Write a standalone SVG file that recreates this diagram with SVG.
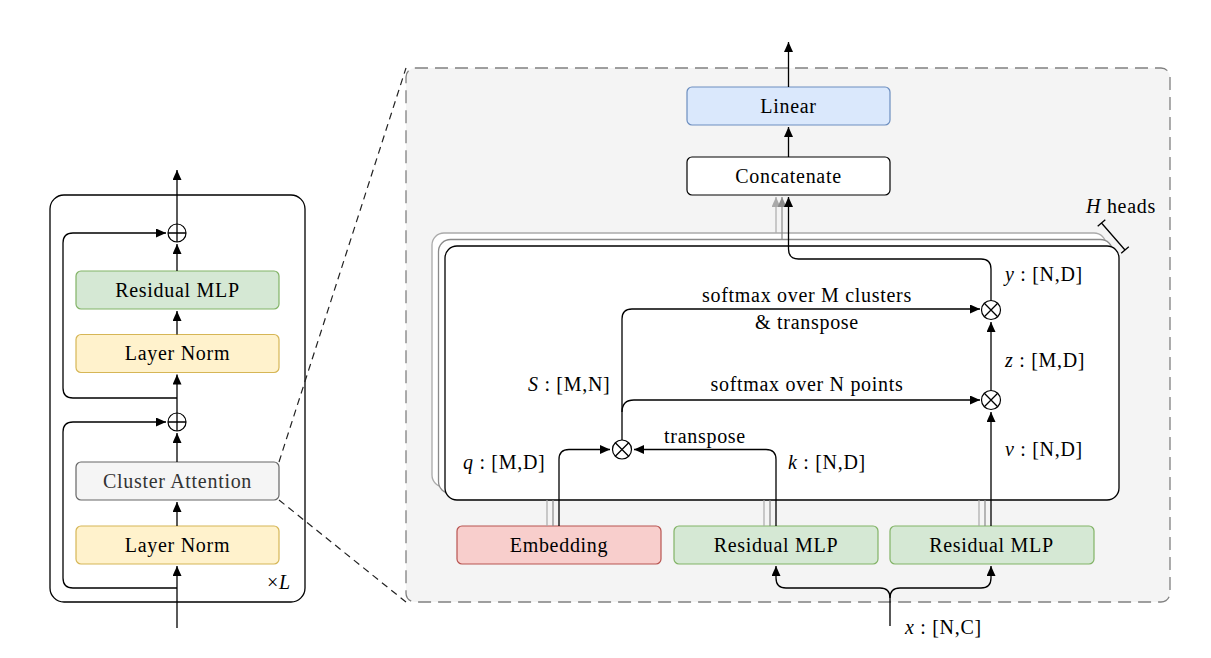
<svg xmlns="http://www.w3.org/2000/svg" width="1211" height="658" viewBox="0 0 1211 658">
<defs>
<marker id="ah" markerUnits="userSpaceOnUse" markerWidth="11" markerHeight="9" refX="10" refY="4.5" orient="auto" viewBox="0 0 11 9"><path d="M0,0 L10,4.5 L0,9 z" fill="#000"/></marker>
<marker id="ahg1" markerUnits="userSpaceOnUse" markerWidth="11" markerHeight="9" refX="10" refY="4.5" orient="auto" viewBox="0 0 11 9"><path d="M0,0 L10,4.5 L0,9 z" fill="#8a8a8a"/></marker>
<marker id="ahg2" markerUnits="userSpaceOnUse" markerWidth="11" markerHeight="9" refX="10" refY="4.5" orient="auto" viewBox="0 0 11 9"><path d="M0,0 L10,4.5 L0,9 z" fill="#aaaaaa"/></marker>
</defs>
<style>
text { font-family: 'Liberation Serif', 'Times New Roman', Tinos, 'Noto Serif', 'DejaVu Serif', serif; font-size: 20px; fill: #000; letter-spacing: 0.7px; }
.c { text-anchor: middle; }
.m { font-style: italic; }
.ln { fill: none; stroke: #000; stroke-width: 1.3; }
.arr { marker-end: url(#ah); }
.nd { stroke-width: 1.2; }
.green { fill: #d5e8d4; stroke: #82b366; }
.yellow { fill: #fff2cc; stroke: #d6b656; }
.grey { fill: #f5f5f5; stroke: #666666; }
.red { fill: #f8cecc; stroke: #b85450; }
.blue { fill: #dae8fc; stroke: #6c8ebf; }
.white { fill: #ffffff; stroke: #000000; }
.op { fill: #fff; stroke: #000; stroke-width: 1.2; }
.g1 { fill: none; stroke: #8a8a8a; stroke-width: 1.2; }
.g2 { fill: none; stroke: #aaaaaa; stroke-width: 1.2; }
</style>
<rect x="0" y="0" width="1211" height="658" fill="#fff"/>

<!-- right panel background -->
<g id="attention-panel">
<rect x="406" y="68" width="764" height="534" rx="9" fill="#f4f4f4" stroke="#808080" stroke-width="1.3" stroke-dasharray="13 7"/>
</g>

<!-- left block -->
<g id="block-frame">
<rect x="50" y="195" width="255" height="407" rx="14" fill="none" stroke="#000" stroke-width="1.3"/>
<text x="267" y="589" font-family="Liberation Serif, serif">×<tspan class="m">L</tspan></text>
</g>

<g id="layernorm-2">
<rect class="nd yellow" x="76" y="526" width="203" height="38" rx="5"/>
<text class="c" x="177.5" y="552" font-family="Liberation Serif, serif">Layer Norm</text>
</g>
<g id="cluster-attention">
<rect class="nd grey" x="76" y="462" width="203" height="38" rx="5"/>
<text class="c" x="177.5" y="488" font-family="Liberation Serif, serif" style="fill:#333">Cluster Attention</text>
</g>
<g id="plus-2">
<circle class="op" cx="177" cy="422" r="9"/>
<path class="ln" d="M168,422 H186 M177,413 V431" stroke-width="1.2"/>
</g>
<g id="layernorm-1">
<rect class="nd yellow" x="76" y="334.5" width="203" height="38" rx="5"/>
<text class="c" x="177.5" y="360" font-family="Liberation Serif, serif">Layer Norm</text>
</g>
<g id="residual-mlp-left">
<rect class="nd green" x="76" y="271" width="203" height="38" rx="5"/>
<text class="c" x="177.5" y="297" font-family="Liberation Serif, serif">Residual MLP</text>
</g>
<g id="plus-1">
<circle class="op" cx="177" cy="233" r="9"/>
<path class="ln" d="M168,233 H186 M177,224 V242" stroke-width="1.2"/>
</g>

<!-- right panel nodes -->
<g id="heads">
<rect x="432" y="233" width="674" height="254" rx="12" fill="#fff" stroke="#aaaaaa" stroke-width="1.3"/>
<rect x="438.5" y="239.5" width="674" height="254" rx="12" fill="#fff" stroke="#8a8a8a" stroke-width="1.3"/>
<rect x="445" y="246" width="674" height="254" rx="12" fill="#fff" stroke="#000" stroke-width="1.3"/>
</g>
<g id="h-heads">
<path class="ln" d="M1101.5,223 L1125,250 M1097.7,226.3 L1105.3,219.7 M1121.2,253.3 L1128.8,246.7" stroke="#333"/>
<text class="c" x="1121" y="213" font-family="Liberation Serif, serif"><tspan class="m">H</tspan> heads</text>
</g>
<g id="linear">
<rect class="nd blue" x="687" y="87" width="203" height="38" rx="5"/>
<text class="c" x="788.5" y="113" font-family="Liberation Serif, serif">Linear</text>
</g>
<g id="concatenate">
<rect class="nd white" x="687" y="157" width="203" height="38" rx="5"/>
<text class="c" x="788.5" y="183" font-family="Liberation Serif, serif">Concatenate</text>
</g>
<g id="embedding">
<rect class="nd red" x="457" y="526" width="204" height="38" rx="5"/>
<text class="c" x="559" y="552" font-family="Liberation Serif, serif">Embedding</text>
</g>
<g id="residual-mlp-k">
<rect class="nd green" x="674" y="526" width="204" height="38" rx="5"/>
<text class="c" x="776" y="552" font-family="Liberation Serif, serif">Residual MLP</text>
</g>
<g id="residual-mlp-v">
<rect class="nd green" x="890" y="526" width="204" height="38" rx="5"/>
<text class="c" x="991.5" y="552" font-family="Liberation Serif, serif">Residual MLP</text>
</g>
<g id="times-s">
<circle class="op" cx="622" cy="449.5" r="9.5"/>
<path class="ln" d="M615.3,442.8 L628.7,456.2 M615.3,456.2 L628.7,442.8" stroke-width="1.2"/>
</g>
<g id="times-z">
<circle class="op" cx="991" cy="400" r="9.5"/>
<path class="ln" d="M984.3,393.3 L997.7,406.7 M984.3,406.7 L997.7,393.3" stroke-width="1.2"/>
</g>
<g id="times-y">
<circle class="op" cx="991" cy="310" r="9.5"/>
<path class="ln" d="M984.3,303.3 L997.7,316.7 M984.3,316.7 L997.7,303.3" stroke-width="1.2"/>
</g>

<!-- connectors -->
<g id="connectors">
<path d="M279,462 L406,68 M279,500 L406,602" fill="none" stroke="#222" stroke-width="1.2" stroke-dasharray="7 5"/>
<path class="ln arr" d="M177,628 V566"/>
<path class="ln arr" d="M177,526 V502"/>
<path class="ln arr" d="M177,462 V433"/>
<path class="ln arr" d="M177,413 V374.5"/>
<path class="ln arr" d="M177,334.5 V311"/>
<path class="ln arr" d="M177,271 V244"/>
<path class="ln arr" d="M177,224 V170"/>
<path class="ln arr" d="M177,398 H73 Q63,398 63,388 V243 Q63,233 73,233 H166"/>
<path class="ln arr" d="M177,588 H73 Q63,588 63,578 V432 Q63,422 73,422 H166"/>
<path class="ln arr" d="M788.5,87 V42"/>
<path class="ln arr" d="M788.5,157 V127"/>
<path class="g2" d="M776,233 V197" marker-end="url(#ahg2)"/>
<path class="g1" d="M782,239.5 V197" marker-end="url(#ahg1)"/>
<path class="ln arr" d="M991,300.5 V269 Q991,259 981,259 H798.5 Q788.5,259 788.5,249 V197"/>
<path class="ln arr" d="M622,440 V319 Q622,309 632,309 H980"/>
<path class="ln arr" d="M622,412 Q622,400 634,400 H980"/>
<path class="ln arr" d="M991,390.5 V322"/>
<path class="ln arr" d="M991,526 V412"/>
<path class="ln arr" d="M559,526 V459.5 Q559,449.5 569,449.5 H610"/>
<path class="ln arr" d="M776,526 V459.5 Q776,449.5 766,449.5 H634"/>
<path class="g2" d="M547,500 V526 M764,500 V526 M979,500 V526"/>
<path class="g1" d="M553,500 V526 M770,500 V526 M985,500 V526"/>
<path class="ln arr" d="M890,626 V598 Q890,588 880,588 H786 Q776,588 776,578 V566"/>
<path class="ln arr" d="M890,598 Q890,588 900,588 H981 Q991,588 991,578 V566"/>
</g>

<!-- labels -->
<g id="labels" font-family="Liberation Serif, serif">
<text class="c" x="807" y="302">softmax over M clusters</text>
<text class="c" x="807" y="329">&amp; transpose</text>
<text class="c" x="807" y="391">softmax over N points</text>
<text class="c" x="705" y="443">transpose</text>
<text x="528" y="391"><tspan class="m">S</tspan> : [M,N]</text>
<text x="463" y="469"><tspan class="m">q</tspan> : [M,D]</text>
<text x="788" y="469"><tspan class="m">k</tspan> : [N,D]</text>
<text x="1005" y="456"><tspan class="m">v</tspan> : [N,D]</text>
<text x="1005" y="367"><tspan class="m">z</tspan> : [M,D]</text>
<text x="1005" y="281"><tspan class="m">y</tspan> : [N,D]</text>
<text x="905" y="634"><tspan class="m">x</tspan> : [N,C]</text>
</g>
</svg>
